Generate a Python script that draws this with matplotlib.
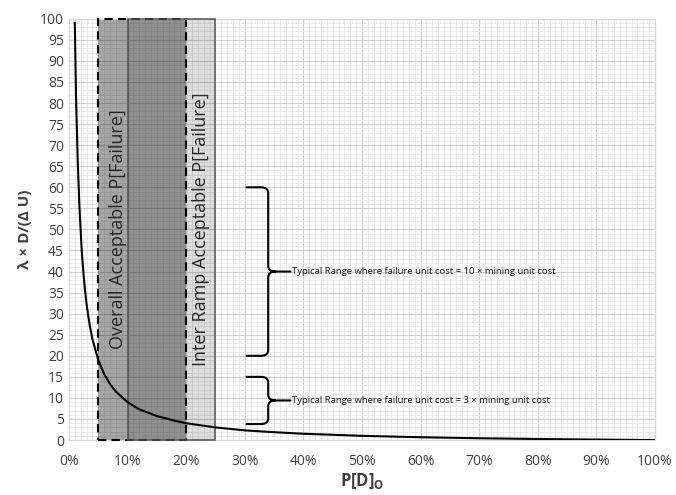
import matplotlib
matplotlib.use("Agg")
import matplotlib.pyplot as plt
from matplotlib.patches import Rectangle, PathPatch
from matplotlib.path import Path
from matplotlib.ticker import MultipleLocator, FuncFormatter

plt.rcParams['font.family'] = ['Open Sans', 'DejaVu Sans']
plt.rcParams['mathtext.fontset'] = 'custom'
plt.rcParams['mathtext.rm'] = 'Open Sans'
plt.rcParams['mathtext.bf'] = 'Open Sans:bold'

# 曲线：P[D]o 与 λ×D/(ΔU)
p_do = [0.010, 0.012, 0.015, 0.018, 0.022, 0.026, 0.030, 0.035, 0.040, 0.050,
        0.060, 0.070, 0.080, 0.100, 0.120, 0.150, 0.180, 0.200, 0.250, 0.300,
        0.350, 0.400, 0.500, 0.600, 0.700, 0.800, 0.900, 1.000]
ratio = [99, 82, 66, 55, 44.5, 37.5, 32.3, 27.6, 24, 19,
         15.7, 13.3, 11.5, 9, 7.3, 5.7, 4.6, 4, 3, 2.3,
         1.86, 1.5, 1, 0.67, 0.43, 0.25, 0.11, 0]

# 可接受失效概率区间
overall_range = (0.05, 0.20)
inter_ramp_range = (0.10, 0.25)
overall_label = 'Overall Acceptable P[Failure]'
inter_ramp_label = 'Inter Ramp Acceptable P[Failure]'

# 花括号区间（y 值）及说明
brace_ranges = [(20, 60), (3.8, 15)]
brace_labels = ['Typical Range where failure unit cost = 10 × mining unit cost',
                'Typical Range where failure unit cost = 3 × mining unit cost']


def draw_brace(ax, y_lo, y_hi, x0=0.303, x1=0.34, x2=0.378, cx=0.012, r=1.4):
    ym = (y_lo + y_hi) / 2
    verts = [(x0, y_hi), (x1 - cx, y_hi), (x1, y_hi), (x1, y_hi - r),
             (x1, ym + r), (x1, ym), (x1 + cx, ym), (x2, ym),
             (x1 + cx, ym), (x1, ym), (x1, ym - r),
             (x1, y_lo + r), (x1, y_lo), (x1 - cx, y_lo), (x0, y_lo)]
    codes = [Path.MOVETO, Path.LINETO, Path.CURVE3, Path.CURVE3,
             Path.LINETO, Path.CURVE3, Path.CURVE3, Path.LINETO,
             Path.MOVETO, Path.CURVE3, Path.CURVE3,
             Path.LINETO, Path.CURVE3, Path.CURVE3, Path.LINETO]
    ax.add_patch(PathPatch(Path(verts, codes), fill=False, lw=1.5,
                           edgecolor='black', capstyle='round', zorder=4))
    return x2, ym


fig = plt.figure(figsize=(6.76, 4.95), dpi=100)
ax = fig.add_axes([0.102, 0.111, 0.867, 0.851])

ax.set_xlim(0, 1)
ax.set_ylim(0, 100)
ax.xaxis.set_major_locator(MultipleLocator(0.1))
ax.xaxis.set_minor_locator(MultipleLocator(0.01))
ax.yaxis.set_major_locator(MultipleLocator(5))
ax.yaxis.set_minor_locator(MultipleLocator(1))
ax.xaxis.set_major_formatter(FuncFormatter(lambda v, _: f'{v*100:.0f}%'))
ax.set_axisbelow(True)
ax.grid(which='major', color='#d0d0d0', lw=0.9)
ax.grid(which='minor', color='#e8e8e8', lw=0.6)
ax.tick_params(which='both', length=0, labelsize=10, labelcolor='#404040')
ax.tick_params(axis='x', pad=10)
for s in ax.spines.values():
    s.set_color('#d9d9d9')

# 总体可接受区（虚线框）
ax.add_patch(Rectangle((overall_range[0], 0), overall_range[1] - overall_range[0], 100,
                       facecolor='black', alpha=0.35, edgecolor='none', zorder=1))
ax.add_patch(Rectangle((overall_range[0], 0), overall_range[1] - overall_range[0], 100,
                       fill=False, edgecolor='black', lw=1.5, linestyle=(0, (4, 2.5)),
                       zorder=3, clip_on=False))
# 台阶间可接受区（实线框）
ax.add_patch(Rectangle((inter_ramp_range[0], 0), inter_ramp_range[1] - inter_ramp_range[0], 100,
                       facecolor='black', alpha=0.13, edgecolor='none', zorder=1))
ax.add_patch(Rectangle((inter_ramp_range[0], 0), inter_ramp_range[1] - inter_ramp_range[0], 100,
                       fill=False, edgecolor='#505050', lw=1.1, zorder=3, clip_on=False))

ax.text(0.084, 50, overall_label, rotation=90, ha='center', va='center',
        fontsize=13, color='#262626', zorder=5)
ax.text(0.225, 50, inter_ramp_label, rotation=90, ha='center', va='center',
        fontsize=13, color='#262626', zorder=5)

ax.plot(p_do, ratio, color='black', lw=1.5, zorder=4)

for (lo, hi), lab in zip(brace_ranges, brace_labels):
    xt, yt = draw_brace(ax, lo, hi)
    ax.text(xt + 0.002, yt, lab, ha='left', va='center', fontsize=6.8, color='#1a1a1a')

ax.set_xlabel(r'$\mathbf{P[D]_O}$', fontsize=12, color='#404040', labelpad=2)
ax.set_ylabel('λ × D/(Δ U)', fontsize=11, fontweight='bold', color='#404040', labelpad=6)

plt.savefig('out.png', dpi=100)
